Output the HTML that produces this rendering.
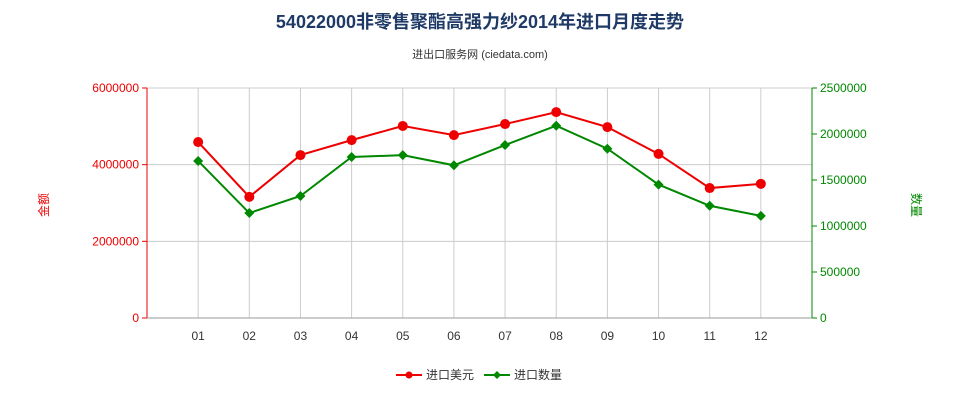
<!DOCTYPE html>
<html><head><meta charset="utf-8"><style>
body{margin:0;background:#fff;}
svg text{font-family:"Liberation Sans","Noto Sans CJK SC",sans-serif;}
</style></head><body>
<svg width="960" height="400" xmlns="http://www.w3.org/2000/svg">
<text x="480" y="28" text-anchor="middle" font-size="18" font-weight="bold" fill="#1f3a66">54022000非零售聚酯高强力纱2014年进口月度走势</text>
<text x="480" y="58" text-anchor="middle" font-size="11" fill="#333">进出口服务网 (ciedata.com)</text>
<g id="grid"></g>
<g id="axes"></g>
<g id="series"></g>
<text x="48" y="205" text-anchor="middle" font-size="12" fill="#e00" transform="rotate(-90 48 205)">金额</text>
<text x="912" y="205" text-anchor="middle" font-size="12" fill="#080" transform="rotate(90 912 205)">数量</text>
<g>
<g><line x1="396" y1="375" x2="422" y2="375" stroke="#e00" stroke-width="2"/><circle cx="409" cy="375" r="3.5" fill="#e00"/><text x="426" y="379" font-size="12" fill="#333">进口美元</text></g>
<g><line x1="484" y1="375" x2="510" y2="375" stroke="#080" stroke-width="2"/><path d="M497 371 L501 375 L497 379 L493 375Z" fill="#080"/><text x="514" y="379" font-size="12" fill="#333">进口数量</text></g>
</g>
</svg>
<script>
const categories=["01","02","03","04","05","06","07","08","09","10","11","12"];
const usdValues=[4590000,3160000,4250000,4640000,5010000,4770000,5060000,5370000,4980000,4280000,3390000,3500000];
const qtyValues=[1707000,1141000,1326000,1750000,1770000,1660000,1880000,2090000,1840000,1450000,1220000,1110000];
const leftTicks=[0,2000000,4000000,6000000];
const rightTicks=[0,500000,1000000,1500000,2000000,2500000];
const L=147,R=812,T=88,B=318,NS="http://www.w3.org/2000/svg";
const step=(R-L)/(categories.length+1);
const xs=i=>L+(i+1)*step;
const yl=v=>B-v/6000000*(B-T);
const yr=v=>B-v/2500000*(B-T);
function mk(tag,attrs,parent,text){const e=document.createElementNS(NS,tag);for(const k in attrs)e.setAttribute(k,attrs[k]);if(text!==undefined)e.textContent=text;document.getElementById(parent).appendChild(e);return e;}
categories.forEach((c,i)=>{
 const g=mk("line",{x1:xs(i),x2:xs(i),y1:T,y2:B,stroke:"#ccc"},"grid");
 
 
 const t=mk("text",{x:xs(i),y:B+22,"text-anchor":"middle","font-size":12,fill:"#333"},"axes",c);
 
 
});
leftTicks.forEach(v=>{
 const g=mk("line",{x1:L,x2:R,y1:yl(v),y2:yl(v),stroke:"#ccc"},"grid");
 
 
 mk("line",{x1:L-5,x2:L,y1:yl(v),y2:yl(v),stroke:"#e00"},"axes");
 const t=mk("text",{x:L-8,y:yl(v)+4,"text-anchor":"end","font-size":12,fill:"#e00"},"axes",String(v));
 
 
});
rightTicks.forEach(v=>{
 mk("line",{x1:R,x2:R+5,y1:yr(v),y2:yr(v),stroke:"#080"},"axes");
 const t=mk("text",{x:R+8,y:yr(v)+4,"font-size":12,fill:"#080"},"axes",String(v));
 
 
});
let a=mk("line",{x1:L,x2:L,y1:T,y2:B,stroke:"#e00"},"axes");


a=mk("line",{x1:R,x2:R,y1:T,y2:B,stroke:"#080"},"axes");


a=mk("line",{x1:L,x2:R,y1:B,y2:B,stroke:"#999"},"axes");


let p=mk("polyline",{points:usdValues.map((v,i)=>xs(i)+","+yl(v)).join(" "),fill:"none",stroke:"#e00","stroke-width":2},"series");


p=mk("polyline",{points:qtyValues.map((v,i)=>xs(i)+","+yr(v)).join(" "),fill:"none",stroke:"#080","stroke-width":2},"series");


usdValues.forEach((v,i)=>{
 const c=mk("circle",{cx:xs(i),cy:yl(v),r:5,fill:"#e00"},"series");
 
 
});
qtyValues.forEach((v,i)=>{
 const x=xs(i),y=yr(v);
 const d=mk("path",{d:`M${x} ${y-5} L${x+5} ${y} L${x} ${y+5} L${x-5} ${y}Z`,fill:"#080"},"series");
 
 
});
</script>
</body></html>
